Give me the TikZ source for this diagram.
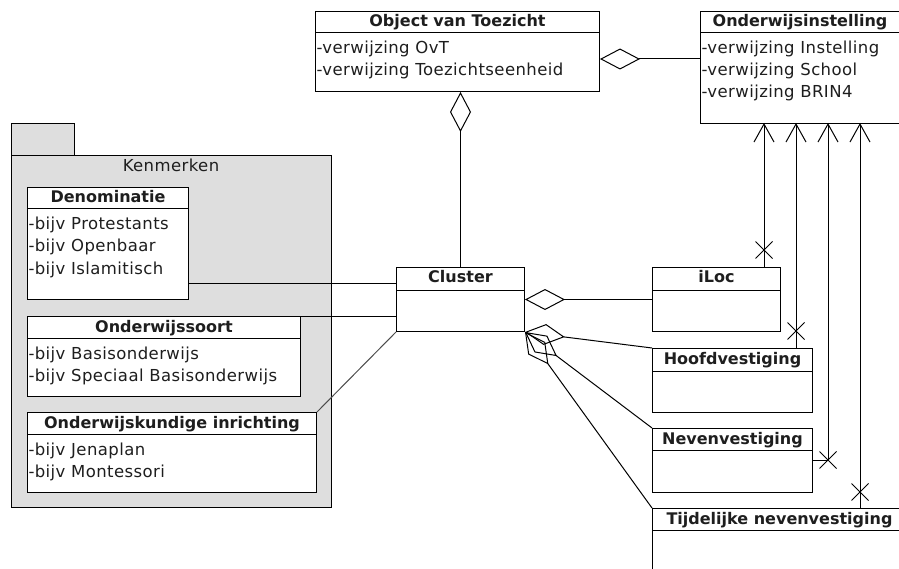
\documentclass[tikz,border=0pt]{standalone}
\usepackage{fontspec}
\usepackage{tikz}
\usetikzlibrary{arrows.meta, shapes.misc}

\newfontfamily\umlfont[LetterSpace=2.5]{DejaVu Sans}
\newfontfamily\umlbfont{DejaVu Sans Bold}
\newcommand{\umlattr}{\umlfont\fontsize{16.5}{18}\selectfont}
\newcommand{\umlhead}{\umlbfont\fontsize{16}{18}\selectfont}
\definecolor{pkggray}{RGB}{222,222,222}
\definecolor{umltext}{RGB}{30,30,30}

\begin{document}
\begin{tikzpicture}[x=1pt,y=-1pt,line width=1pt]
  \tikzset{
    cls/.style={draw, fill=white, anchor=north west, inner sep=0pt},
    pkg/.style={draw, fill=pkggray, anchor=north west, inner sep=0pt},
    hdr/.style={font=\umlhead, text=umltext, anchor=base, inner sep=0pt},
    attr/.style={font=\umlattr, text=umltext, anchor=base west, inner xsep=1pt, inner ysep=0pt},
    agg/.style={-{Diamond[open,length=40pt,width=21pt]}},
    nav/.style={-{Straight Barb[length=18pt,width=20pt]}},
    kill/.style={draw, cross out, minimum size=16pt, inner sep=0pt}
  }
  \useasboundingbox (0,0) rectangle (899,569);
  \clip (0,0) rectangle (899,569);

  % package Kenmerken
  \node[pkg, minimum width=63pt, minimum height=32pt] (pkgtab) at (11,123) {};
  \node[pkg, minimum width=320pt, minimum height=352pt] (pkg) at (11,155) {};
  \node[font=\umlattr, text=umltext, anchor=base, inner sep=0pt] (pkg-t) at (171,172) {Kenmerken};

  % classes
  \node[cls, minimum width=284pt, minimum height=80pt] (ovt) at (315,11) {};
  \draw ([yshift=-22pt]ovt.north west) -- ([yshift=-22pt]ovt.north east);
  \node[hdr] (ovt-t) at ([yshift=-16pt]ovt.north) {Object van Toezicht};
  \node[attr] (ovt-a1) at ([yshift=-43pt]ovt.north west) {-verwijzing OvT};
  \node[attr] (ovt-a2) at ([yshift=-65pt]ovt.north west) {-verwijzing Toezichtseenheid};

  \node[cls, minimum width=199pt, minimum height=112pt] (inst) at (700,11) {};
  \draw ([yshift=-22pt]inst.north west) -- ([yshift=-22pt]inst.north east);
  \node[hdr] (inst-t) at ([yshift=-16pt]inst.north) {Onderwijsinstelling};
  \node[attr] (inst-a1) at ([yshift=-43pt]inst.north west) {-verwijzing Instelling};
  \node[attr] (inst-a2) at ([yshift=-65pt]inst.north west) {-verwijzing School};
  \node[attr] (inst-a3) at ([yshift=-87pt]inst.north west) {-verwijzing BRIN4};

  \node[cls, minimum width=161pt, minimum height=112pt] (denom) at (27,187) {};
  \draw ([yshift=-22pt]denom.north west) -- ([yshift=-22pt]denom.north east);
  \node[hdr] (denom-t) at ([yshift=-16pt]denom.north) {Denominatie};
  \node[attr] (denom-a1) at ([yshift=-43pt]denom.north west) {-bijv Protestants};
  \node[attr] (denom-a2) at ([yshift=-65pt]denom.north west) {-bijv Openbaar};
  \node[attr] (denom-a3) at ([yshift=-87pt]denom.north west) {-bijv Islamitisch};

  \node[cls, minimum width=273pt, minimum height=80pt] (soort) at (27,316) {};
  \draw ([yshift=-22pt]soort.north west) -- ([yshift=-22pt]soort.north east);
  \node[hdr] (soort-t) at ([yshift=-16pt]soort.north) {Onderwijssoort};
  \node[attr] (soort-a1) at ([yshift=-43pt]soort.north west) {-bijv Basisonderwijs};
  \node[attr] (soort-a2) at ([yshift=-65pt]soort.north west) {-bijv Speciaal Basisonderwijs};

  \node[cls, minimum width=289pt, minimum height=80pt] (inricht) at (27,412) {};
  \draw ([yshift=-22pt]inricht.north west) -- ([yshift=-22pt]inricht.north east);
  \node[hdr] (inricht-t) at ([yshift=-16pt]inricht.north) {Onderwijskundige inrichting};
  \node[attr] (inricht-a1) at ([yshift=-43pt]inricht.north west) {-bijv Jenaplan};
  \node[attr] (inricht-a2) at ([yshift=-65pt]inricht.north west) {-bijv Montessori};

  \node[cls, minimum width=128pt, minimum height=64pt] (cluster) at (396,267) {};
  \draw ([yshift=-23pt]cluster.north west) -- ([yshift=-23pt]cluster.north east);
  \node[hdr] (cluster-t) at ([yshift=-16pt]cluster.north) {Cluster};

  \node[cls, minimum width=128pt, minimum height=64pt] (iloc) at (652,267) {};
  \draw ([yshift=-23pt]iloc.north west) -- ([yshift=-23pt]iloc.north east);
  \node[hdr] (iloc-t) at ([yshift=-16pt]iloc.north) {iLoc};

  \node[cls, minimum width=160pt, minimum height=64pt] (hoofd) at (652,348) {};
  \draw ([yshift=-23pt]hoofd.north west) -- ([yshift=-23pt]hoofd.north east);
  \node[hdr] (hoofd-t) at ([yshift=-16pt]hoofd.north) {Hoofdvestiging};

  \node[cls, minimum width=160pt, minimum height=64pt] (neven) at (652,428) {};
  \draw ([yshift=-22pt]neven.north west) -- ([yshift=-22pt]neven.north east);
  \node[hdr] (neven-t) at ([yshift=-16pt]neven.north) {Nevenvestiging};

  \node[cls, minimum width=254pt, minimum height=100pt] (tijd) at (652,508) {};
  \draw ([yshift=-22pt]tijd.north west) -- ([yshift=-22pt]tijd.north east);
  \node[hdr] (tijd-t) at ([yshift=-16pt]tijd.north) {Tijdelijke nevenvestiging};

  % aggregations
  \draw[agg] (cluster.north) -- (ovt.south -| cluster.north);
  \draw[agg] (inst.west |- 0,59) -- (ovt.east |- 0,59);
  \draw[agg] (iloc.west) -- (cluster.east);
  \draw[agg] (hoofd.north west) -- (cluster.south east);
  \draw[agg] (neven.north west) -- (cluster.south east);
  \draw[agg] (tijd.north west) -- (cluster.south east);

  % kenmerken links
  \draw (denom.east |- 0,283) -- (cluster.west |- 0,283);
  \draw (soort.north east) -- (cluster.west |- soort.north east);
  \draw[black!70] (inricht.north east) -- (cluster.south west);

  % navigable links to Onderwijsinstelling
  \coordinate (nav1) at (764,123);
  \coordinate (nav2) at (796,123);
  \coordinate (nav3) at (828,123);
  \coordinate (nav4) at (860,123);
  \draw[nav] (iloc.north -| nav1) -- (nav1);
  \draw[nav] (hoofd.north -| nav2) -- (nav2);
  \draw[nav] (neven.east) -| (nav3);
  \draw[nav] (tijd.north -| nav4) -- (nav4);
  \node[kill] (k1) at (764,250) {};
  \node[kill] (k2) at (796,331) {};
  \node[kill] (k3) at (828,460) {};
  \node[kill] (k4) at (860,492) {};
\end{tikzpicture}
\end{document}
